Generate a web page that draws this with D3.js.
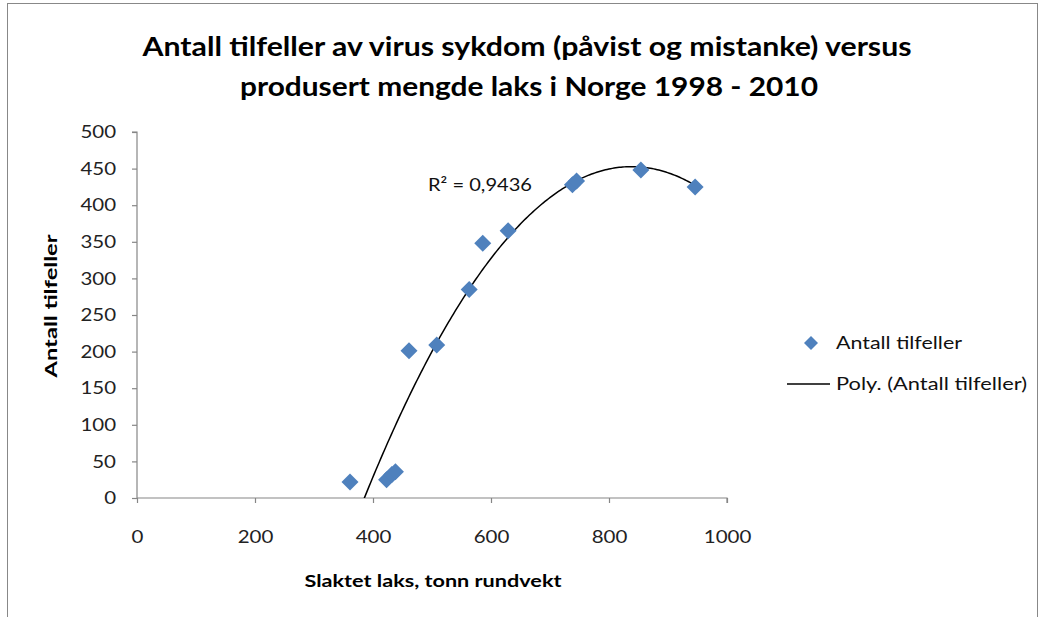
<!DOCTYPE html>
<html><head><meta charset="utf-8">
<script src="https://cdn.jsdelivr.net/npm/d3@7"></script>
<style>
body{margin:0;background:#fff;}
text{font-family:Lato,"Open Sans",sans-serif;}
</style></head>
<body>
<svg id="c" width="1041" height="617"></svg>
<script>
const titleLines = ["Antall tilfeller av virus sykdom (påvist og mistanke) versus", "produsert mengde laks i Norge 1998 - 2010"];
const xLabel = "Slaktet laks, tonn rundvekt";
const yLabel = "Antall tilfeller";
const seriesName = "Antall tilfeller";
const trendName = "Poly. (Antall tilfeller)";
const r2Label = "R² = 0,9436";
// produced salmon (x) and number of cases (y), 1998-2010
const slaktet = [361, 423, 432, 438, 461, 508, 563, 586, 629, 738, 745, 854, 946];
const tilfeller = [22, 25, 32, 36, 201, 209, 285, 348, 365, 428, 433, 448, 425];
const xTicks = [0, 200, 400, 600, 800, 1000];
const yTicks = [0, 50, 100, 150, 200, 250, 300, 350, 400, 450, 500];

const svg = d3.select("#c");
svg.append("rect").attr("x",7.5).attr("y",3.5).attr("width",1030).attr("height",640)
  .attr("fill","none").attr("stroke","#888").attr("stroke-width",1);

const L=137, R=727, T=132, B=498;
const x = d3.scaleLinear().domain([0,1000]).range([L,R]);
const y = d3.scaleLinear().domain([0,500]).range([B,T]);

svg.append("text").attr("x",527).attr("y",56).attr("text-anchor","middle")
  .attr("font-size",26).attr("font-weight","bold").attr("fill","#000")
  .attr("textLength",769).attr("lengthAdjust","spacingAndGlyphs").text(titleLines[0]);
svg.append("text").attr("x",529).attr("y",96).attr("text-anchor","middle")
  .attr("font-size",26).attr("font-weight","bold").attr("fill","#000")
  .attr("textLength",578).attr("lengthAdjust","spacingAndGlyphs").text(titleLines[1]);

const stretch = (sel,f) => sel.each(function(){const w=this.getComputedTextLength();
  d3.select(this).attr("textLength",w*f).attr("lengthAdjust","spacingAndGlyphs");});

const ax = svg.append("g").attr("transform",`translate(0,${B})`)
  .call(d3.axisBottom(x).tickValues(xTicks).tickSize(5).tickPadding(28).tickFormat(d3.format("d")));
const ay = svg.append("g").attr("transform",`translate(${L},0)`)
  .call(d3.axisLeft(y).tickValues(yTicks).tickSize(5).tickPadding(16).tickFormat(d3.format("d")));
[ax,ay].forEach(g=>{
  g.selectAll("path,line").attr("stroke","#868686").attr("stroke-width",1.2);
  g.selectAll("text").attr("font-size",17.5).attr("fill","#222").attr("font-family","Lato,sans-serif");
  stretch(g.selectAll("text"),1.17);
});
ax.select(".domain").attr("d",`M${L},0H${R}V5`);
ay.select(".domain").attr("d",`M-5,${T}H0V${B}`);

svg.append("text").attr("x",433).attr("y",587).attr("text-anchor","middle")
  .attr("font-size",17).attr("font-weight","bold").attr("textLength",257).attr("lengthAdjust","spacingAndGlyphs").text(xLabel);
svg.append("text").attr("transform","translate(57,306) rotate(-90)").attr("text-anchor","middle")
  .attr("font-size",17).attr("font-weight","bold").attr("textLength",143).attr("lengthAdjust","spacingAndGlyphs").text(yLabel);

// polynomial (order 2) least squares fit
const n = slaktet.length;
let S=[0,0,0,0,0], Sy=[0,0,0];
for(let i=0;i<n;i++){const xi=slaktet[i], yi=tilfeller[i];
  for(let k=0;k<5;k++) S[k]+=Math.pow(xi,k);
  for(let k=0;k<3;k++) Sy[k]+=yi*Math.pow(xi,k);}
const M=[[S[0],S[1],S[2],Sy[0]],[S[1],S[2],S[3],Sy[1]],[S[2],S[3],S[4],Sy[2]]];
for(let c=0;c<3;c++){for(let r=c+1;r<3;r++){const f=M[r][c]/M[c][c];for(let k=c;k<4;k++)M[r][k]-=f*M[c][k];}}
const coef=[0,0,0];
for(let r=2;r>=0;r--){let s=M[r][3];for(let k=r+1;k<3;k++)s-=M[r][k]*coef[k];coef[r]=s/M[r][r];}
const poly = v=>coef[0]+coef[1]*v+coef[2]*v*v;
const xmin=d3.min(slaktet), xmax=d3.max(slaktet);
const curve = d3.range(0,201).map(i=>{const v=xmin+(xmax-xmin)*i/200;return [v,poly(v)];});
svg.append("clipPath").attr("id","pc").append("rect").attr("x",L).attr("y",T-20).attr("width",R-L+20).attr("height",B-T+20);
svg.append("path").attr("clip-path","url(#pc)")
  .attr("d",d3.line().x(d=>x(d[0])).y(d=>y(d[1]))(curve))
  .attr("fill","none").attr("stroke","#000").attr("stroke-width",1.5);

const diamond = r => `M0,${-r}L${r},0L0,${r}L${-r},0Z`;
svg.append("g").selectAll("path").data(slaktet.map((v,i)=>[v,tilfeller[i]])).join("path")
  .attr("d",diamond(8.5)).attr("transform",d=>`translate(${x(d[0])},${y(d[1])})`)
  .attr("fill","#4F81BD");

svg.append("text").attr("x",428).attr("y",191).attr("font-size",17.5).attr("fill","#111")
  .attr("textLength",104).attr("lengthAdjust","spacingAndGlyphs").text(r2Label);

svg.append("path").attr("d",diamond(7)).attr("transform","translate(811,343)").attr("fill","#4F81BD");
svg.append("text").attr("x",836).attr("y",349).attr("font-size",17.5).attr("fill","#111")
  .attr("textLength",126).attr("lengthAdjust","spacingAndGlyphs").text(seriesName);
svg.append("line").attr("x1",787).attr("x2",830).attr("y1",384).attr("y2",384).attr("stroke","#000").attr("stroke-width",1.5);
svg.append("text").attr("x",836).attr("y",390).attr("font-size",17.5).attr("fill","#111")
  .attr("textLength",191).attr("lengthAdjust","spacingAndGlyphs").text(trendName);
</script>
</body></html>
